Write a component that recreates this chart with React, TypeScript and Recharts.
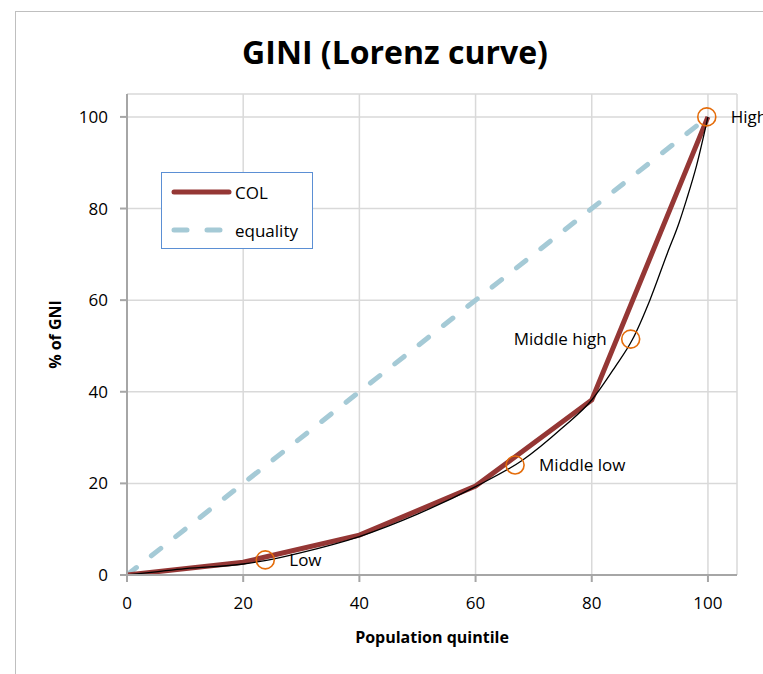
import React from 'react';
import {
  ComposedChart, Line, Scatter, XAxis, YAxis, CartesianGrid, Legend, LabelList,
} from 'recharts';

// Population quintile ticks
const quintileTicks = [0, 20, 40, 60, 80, 100];
const shareTicks = [0, 20, 40, 60, 80, 100];

// COL cumulative share of GNI at each quintile
const colX = [0, 20, 40, 60, 80, 100];
const colY = [0, 2.8, 8.7, 19.4, 38.2, 100];

// Line of perfect equality
const equalityX = [0, 100];
const equalityY = [0, 100];

// Fitted Lorenz curve (thin black)
const lorenzX = [0, 5, 10, 20, 24, 30, 40, 50, 60, 68, 75, 80, 84, 87, 90, 93, 95, 96.3, 98, 100];
const lorenzY = [0, 0.7, 1.4, 2.4, 3.2, 4.9, 8.4, 13.3, 19.3, 25, 32.2, 38.2, 45.4, 51.4, 60, 70.2, 76.8, 81.9, 89.2, 100];

// Income groups markers
const groupNames = ['Low', 'Middle low', 'Middle high', 'High'];
const groupX = [23.8, 66.8, 86.7, 99.8];
const groupY = [3.3, 24, 51.5, 100];

const colData = colX.map((x, i) => ({ x, y: colY[i] }));
const equalityData = equalityX.map((x, i) => ({ x, y: equalityY[i] }));
const lorenzData = lorenzX.map((x, i) => ({ x, y: lorenzY[i] }));
const groupData = groupX.map((x, i) => ({ x, y: groupY[i], name: groupNames[i] }));

const FONT = '"Open Sans", Lato, sans-serif';
const labelLeftSide: Record<string, boolean> = { 'Middle high': true };

const CircleShape = (props: any) => {
  const { cx, cy } = props;
  return <circle cx={cx} cy={cy} r={9} fill="none" stroke="#e46c0a" strokeWidth={1.6} />;
};

const GroupLabel = (props: any) => {
  const { x, y, width, height, value } = props;
  const cx = x + (width || 0) / 2;
  const cy = y + (height || 0) / 2;
  const left = labelLeftSide[value];
  return (
    <text
      x={left ? cx - 24 : cx + 24}
      y={cy}
      dy="0.35em"
      textAnchor={left ? 'end' : 'start'}
      fontSize={17}
      fontFamily={FONT}
      fill="#000"
    >
      {value}
    </text>
  );
};

const LegendBox = (props: any) => {
  const items = (props.payload || []).filter((p: any) => p.value === 'COL' || p.value === 'equality');
  return (
    <div
      style={{
        width: 152,
        height: 77,
        border: '1px solid #5b8fd4',
        background: '#fff',
        boxSizing: 'border-box',
        paddingTop: 0,
        fontFamily: FONT,
        fontSize: 17,
        color: '#000',
        textAlign: 'left',
      }}
    >
      {items.map((it: any) => (
        <div key={it.value} style={{ display: 'flex', alignItems: 'center', height: 38, paddingLeft: 7 }}>
          <svg width={66} height={10}>
            <line
              x1={5}
              y1={5}
              x2={60}
              y2={5}
              stroke={it.color}
              strokeWidth={5}
              strokeLinecap="round"
              strokeDasharray={it.value === 'equality' ? '13 20' : undefined}
            />
          </svg>
          <span>{it.value}</span>
        </div>
      ))}
    </div>
  );
};

export default function App() {
  return (
    <div style={{ position: 'absolute', left: 0, top: 0, width: 763, height: 674, overflow: 'hidden', background: '#fff' }}>
      <div
        style={{
          position: 'absolute',
          left: 15,
          top: 11,
          width: 800,
          height: 700,
          border: '1px solid #bfbfbf',
          boxSizing: 'border-box',
        }}
      />
      <div
        style={{
          position: 'absolute',
          left: 145,
          width: 500,
          top: 29,
          textAlign: 'center',
          fontFamily: FONT,
          fontWeight: 700,
          fontSize: 32,
          color: '#000',
          lineHeight: '46px',
        }}
      >
        GINI (Lorenz curve)
      </div>
      <div style={{ position: 'absolute', left: 0, top: 0 }}>
        <ComposedChart
          width={763}
          height={674}
          margin={{ top: 94, right: 26, bottom: 69, left: 67 }}
        >
          <CartesianGrid stroke="#d9d9d9" strokeWidth={1.5} />
          <XAxis
            type="number"
            dataKey="x"
            domain={[0, 105]}
            ticks={quintileTicks}
            allowDataOverflow
            height={30}
            stroke="#a6a6a6"
            strokeWidth={2}
            tickSize={7}
            tickMargin={15}
            tick={{ fill: '#000', fontSize: 17, fontFamily: FONT }}
            tickLine={{ stroke: '#a6a6a6', strokeWidth: 2 }}
            label={{
              value: 'Population quintile',
              position: 'insideBottom',
              offset: -38,
              style: { fontFamily: FONT, fontWeight: 700, fontSize: 16, fill: '#000' },
            }}
          />
          <YAxis
            type="number"
            dataKey="y"
            domain={[0, 105]}
            ticks={shareTicks}
            allowDataOverflow
            width={60}
            stroke="#a6a6a6"
            strokeWidth={2}
            tickSize={7}
            tickMargin={12}
            tick={{ fill: '#000', fontSize: 17, fontFamily: FONT }}
            tickLine={{ stroke: '#a6a6a6', strokeWidth: 2 }}
            label={{
              value: '% of GNI',
              angle: -90,
              position: 'insideLeft',
              offset: -12,
              style: { fontFamily: FONT, fontWeight: 700, fontSize: 16, fill: '#000', textAnchor: 'middle' },
            }}
          />
          <Legend
            layout="horizontal"
            verticalAlign="middle"
            align="center"
            wrapperStyle={{ position: 'absolute', left: 161, top: 172, width: 152, height: 77 }}
            content={<LegendBox />}
          />
          <Line
            data={equalityData}
            dataKey="y"
            name="equality"
            type="linear"
            stroke="#a5cad6"
            strokeWidth={5}
            strokeDasharray="12 19"
            strokeLinecap="round"
            dot={false}
            activeDot={false}
            isAnimationActive={false}
          />
          <Line
            data={colData}
            dataKey="y"
            name="COL"
            type="linear"
            stroke="#953735"
            strokeWidth={5}
            dot={false}
            activeDot={false}
            isAnimationActive={false}
          />
          <Line
            data={lorenzData}
            dataKey="y"
            name="Lorenz"
            type="monotone"
            stroke="#000"
            strokeWidth={1.3}
            dot={false}
            activeDot={false}
            legendType="none"
            isAnimationActive={false}
          />
          <Scatter
            data={groupData}
            dataKey="y"
            name="groups"
            shape={<CircleShape />}
            legendType="none"
            isAnimationActive={false}
          >
            <LabelList dataKey="name" content={<GroupLabel />} />
          </Scatter>
        </ComposedChart>
      </div>
    </div>
  );
}
